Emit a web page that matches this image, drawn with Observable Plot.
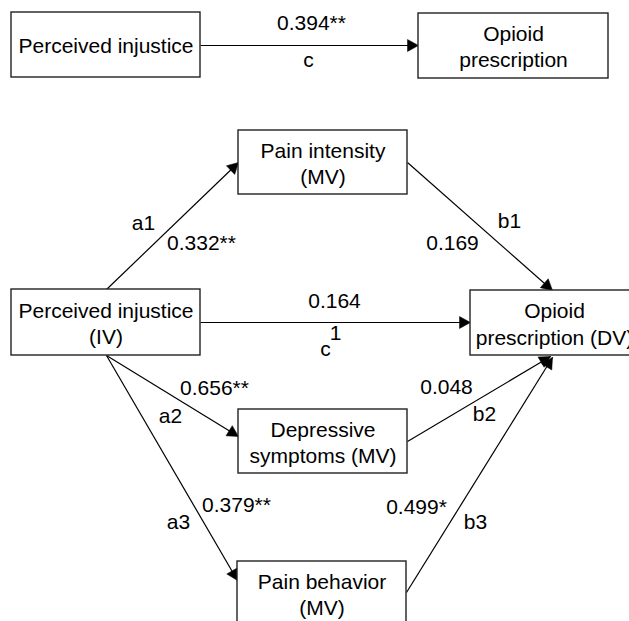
<!DOCTYPE html>
<html><head><meta charset="utf-8">
<script src="https://cdn.jsdelivr.net/npm/d3@7"></script>
<script src="https://cdn.jsdelivr.net/npm/@observablehq/plot@0.6"></script>
<style>
html,body{margin:0;padding:0;background:#fff;overflow:hidden;}
</style></head><body><div id="chart"></div>
<script>
// ---- diagram values ----
const nodeIds = ["PI0","OP0","IV","INT","DV","DEP","BEH"];
const nodeLabels = ["Perceived injustice","Opioid\nprescription","Perceived injustice\n(IV)","Pain intensity\n(MV)","Opioid\nprescription (DV)","Depressive\nsymptoms (MV)","Pain behavior\n(MV)"];
const nodeRow = ["total","total","mediation","mediation","mediation","mediation","mediation"];
const pathNames = ["c","c","a1","b1","a2","b2","a3","b3"];
const pathSup = ["","1","","","","","",""];
const pathFrom = ["PI0","IV","IV","INT","IV","DEP","IV","BEH"];
const pathTo = ["OP0","DV","INT","DV","DEP","DV","BEH","DV"];
const coefficients = ["0.394**","0.164","0.332**","0.169","0.656**","0.048","0.379**","0.499*"];

// ---- layout (pixel space) ----
const nodeX1 = [11,418,11,238,470,238,237];
const nodeX2 = [200,608,200,407,638,407,406];
const nodeY1 = [12,13,289,130,290,409,561];
const nodeY2 = [77,78,355,194,355,473,625];
const pathStartX = [200,200,106,407,106,407,106,406];
const pathStartY = [45,322,289,162,355,441,355,592];
const pathEndX = [418,470,238,552,238,550,237,552];
const pathEndY = [45,322,162,290,436,356,580,357];
const coefX = [311,334,201,452,214,446,236,416];
const coefY = [23,301,243,243,388,387,505,507];
const nameX = [308,325,143,509,170,484,178,475];
const nameY = [60,349,223,221,416,414,522,522];
const supX = [0,335,0,0,0,0,0,0];
const supY = [0,333,0,0,0,0,0,0];

const nodes = nodeIds.map((id,i)=>({id,label:nodeLabels[i],row:nodeRow[i],x1:nodeX1[i],x2:nodeX2[i],y1:nodeY1[i],y2:nodeY2[i],cx:(nodeX1[i]+nodeX2[i])/2,cy:(nodeY1[i]+nodeY2[i])/2}));
const paths = pathNames.map((n,i)=>({name:n,sup:pathSup[i],from:pathFrom[i],to:pathTo[i],coef:coefficients[i],
  x1:pathStartX[i],y1:pathStartY[i],x2:pathEndX[i],y2:pathEndY[i],cx:coefX[i],cy:coefY[i],nx:nameX[i],ny:nameY[i],sx:supX[i],sy:supY[i]}));

// arrowhead polygons derived from each path
const L = 11, W = 6;
const heads = [];
paths.forEach((p,i)=>{
  const dx = p.x2-p.x1, dy = p.y2-p.y1, len = Math.hypot(dx,dy);
  const ux = dx/len, uy = dy/len, bx = p.x2-ux*L, by = p.y2-uy*L;
  heads.push({k:i,x:p.x2,y:p.y2},{k:i,x:bx-uy*W,y:by+ux*W},{k:i,x:bx+uy*W,y:by-ux*W},{k:i,x:p.x2,y:p.y2});
});

const font = "Liberation Sans, Arial, Helvetica, sans-serif";
const chart = Plot.plot({
  width: 629, height: 621, margin: 0,
  style: {fontFamily: font, background: "#fff"},
  x: {domain: [0,629], range: [0,629], axis: null},
  y: {domain: [0,621], range: [0,621], axis: null},
  marks: [
    Plot.link(paths, {x1:"x1", y1:"y1", x2:"x2", y2:"y2", stroke:"#000", strokeWidth:1.2}),
    Plot.line(heads, {x:"x", y:"y", z:"k", fill:"#000", stroke:"#000", strokeWidth:0.5}),
    Plot.rect(nodes, {x1:"x1", x2:"x2", y1:"y1", y2:"y2", fill:"#fff", stroke:"#222", strokeWidth:1.4}),
    Plot.text(nodes.filter(d=>d.row==="total"), {x:"cx", y:"cy", text:"label", fontSize:21, lineHeight:1.2, fill:"#000", fontFamily:font}),
    Plot.text(nodes.filter(d=>d.row!=="total"), {x:"cx", y:"cy", text:"label", fontSize:21, lineHeight:1.27, fill:"#000", fontFamily:font}),
    Plot.text(paths, {x:"cx", y:"cy", text:"coef", fontSize:21, fill:"#000", fontFamily:font}),
    Plot.text(paths, {x:"nx", y:"ny", text:"name", fontSize:21, fill:"#000", fontFamily:font}),
    Plot.text(paths.filter(p=>p.sup), {x:"sx", y:"sy", text:"sup", fontSize:21, fill:"#000", fontFamily:font})
  ]
});
document.getElementById("chart").appendChild(chart);
</script></body></html>
